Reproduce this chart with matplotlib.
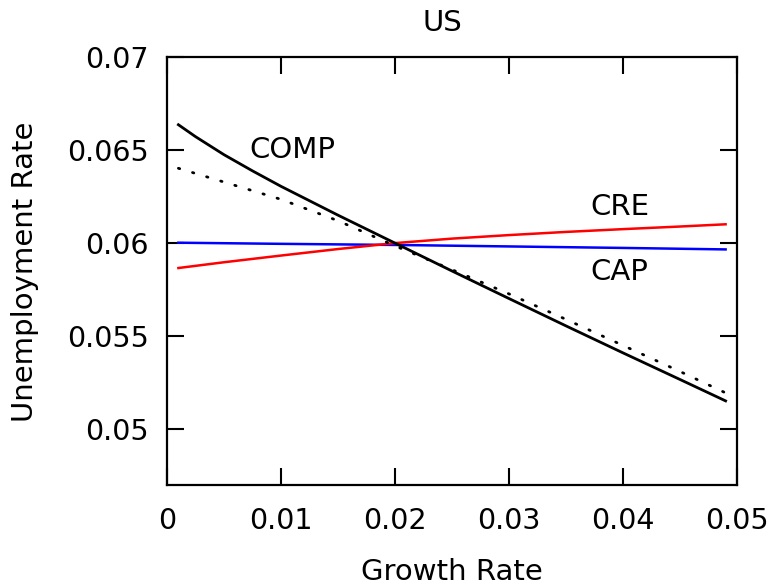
import matplotlib
matplotlib.use("Agg")
import matplotlib.pyplot as plt

plt.rcParams['font.family'] = ['DejaVu Sans']

# Data
comp_x = [0.001, 0.0025, 0.005, 0.0075, 0.01, 0.015, 0.02, 0.025, 0.03, 0.035, 0.04, 0.045, 0.049]
comp_y = [0.06636, 0.06572, 0.06475, 0.06388, 0.06305, 0.0615, 0.0600, 0.0585, 0.05702, 0.05555, 0.0541, 0.05267, 0.05152]

lin_x = [0.001, 0.005, 0.01, 0.015, 0.02, 0.025, 0.03, 0.035, 0.04, 0.045, 0.049]
lin_y = [0.06402, 0.06328, 0.06235, 0.06120, 0.05985, 0.05857, 0.05727, 0.05590, 0.05450, 0.05310, 0.05195]

cre_x = [0.001, 0.005, 0.01, 0.015, 0.02, 0.025, 0.03, 0.035, 0.04, 0.045, 0.049]
cre_y = [0.05866, 0.05897, 0.05933, 0.05968, 0.0600, 0.06024, 0.06043, 0.0606, 0.06075, 0.06089, 0.06101]

cap_x = [0.001, 0.01, 0.02, 0.03, 0.04, 0.049]
cap_y = [0.06002, 0.05996, 0.05990, 0.05982, 0.05974, 0.05966]

xticks = [0, 0.01, 0.02, 0.03, 0.04, 0.05]
xticklabels = ["0", "0.01", "0.02", "0.03", "0.04", "0.05"]
yticks = [0.05, 0.055, 0.06, 0.065, 0.07]
yticklabels = ["0.05", "0.055", "0.06", "0.065", "0.07"]

fig = plt.figure(figsize=(7.77, 5.88), dpi=100)
ax = fig.add_axes([167/777, 1-485/588, (737-167)/777, (485-57)/588])

ax.plot(cap_x, cap_y, color='#0000ff', lw=1.8)
ax.plot(cre_x, cre_y, color='#ff0000', lw=1.8)
ax.plot(lin_x, lin_y, color='black', lw=2.0, ls=(0, (0.5, 4.8)), dash_capstyle='round')
ax.plot(comp_x, comp_y, color='black', lw=2.0, solid_joinstyle='round')

ax.set_xlim(0, 0.05)
ax.set_ylim(0.047, 0.07)
ax.set_xticks(xticks)
ax.set_xticklabels(xticklabels)
ax.set_yticks(yticks)
ax.set_yticklabels(yticklabels)
ax.tick_params(direction='in', length=12.5, width=1.5, labelsize=20.5,
               top=True, right=True, pad=13)
ax.tick_params(axis='x', pad=16)
for s in ax.spines.values():
    s.set_linewidth(1.6)

ax.text(0.011, 0.065, "COMP", fontsize=21, ha='center', va='center')
ax.text(0.0397, 0.06194, "CRE", fontsize=21, ha='center', va='center')
ax.text(0.0397, 0.05844, "CAP", fontsize=21, ha='center', va='center')

fig.text(442/777, 1-23/588, "US", fontsize=21, ha='center', va='center')
fig.text(452/777, 1-572/588, "Growth Rate", fontsize=21, ha='center', va='center')
fig.text(25/777, 1-272/588, "Unemployment Rate", fontsize=21, ha='center', va='center', rotation=90)

fig.savefig("out.png", dpi=100)
